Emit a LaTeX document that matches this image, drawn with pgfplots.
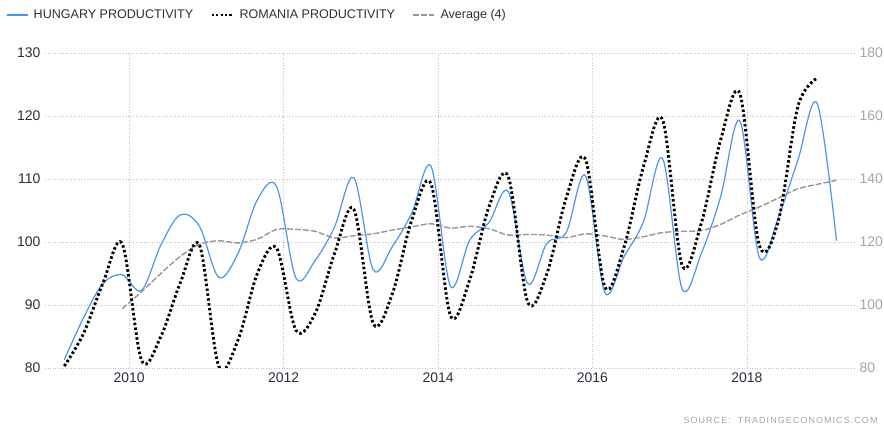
\documentclass[border=0pt]{standalone}
\usepackage{fontspec}
\setmainfont{Liberation Sans}
\usepackage{pgfplots}
\usepackage{pgfplotstable}
\pgfplotsset{compat=1.18}
\definecolor{hublue}{RGB}{77,148,235}
\definecolor{avggray}{RGB}{150,150,150}
\definecolor{gridgray}{RGB}{195,195,195}
\definecolor{ticklbl}{RGB}{45,45,60}
\definecolor{righttick}{RGB}{165,165,165}

\pgfplotstableread{
x v
2009.16 81.3
2009.41 88.0
2009.66 93.4
2009.91 94.8
2010.16 92.3
2010.41 99.5
2010.66 104.3
2010.91 102.5
2011.16 94.4
2011.41 98.2
2011.66 106.7
2011.91 108.8
2012.16 94.3
2012.41 97.1
2012.66 102.4
2012.91 110.2
2013.16 95.6
2013.41 99.3
2013.66 104.6
2013.91 112.0
2014.16 93.0
2014.41 100.3
2014.66 103.1
2014.91 108.0
2015.16 93.4
2015.41 99.8
2015.66 101.5
2015.91 110.5
2016.16 92.0
2016.41 97.7
2016.66 103.2
2016.91 113.2
2017.16 92.6
2017.41 98.2
2017.66 107.2
2017.91 119.2
2018.16 97.6
2018.41 104.0
2018.66 113.0
2018.91 122.0
2019.16 100.2
}\hungary

\pgfplotstableread{
x v
2009.16 80.6
2009.41 91.0
2009.66 106.9
2009.91 119.4
2010.16 82.5
2010.41 90.0
2010.66 106.9
2010.91 119.0
2011.16 80.6
2011.41 88.9
2011.66 110.0
2011.91 118.0
2012.16 92.0
2012.41 97.4
2012.66 116.4
2012.91 130.4
2013.16 94.2
2013.41 103.7
2013.66 127.0
2013.91 138.4
2014.16 96.7
2014.41 108.0
2014.66 131.2
2014.91 140.7
2015.16 101.0
2015.41 110.0
2015.66 134.0
2015.91 146.2
2016.16 105.8
2016.41 118.5
2016.66 143.9
2016.91 158.7
2017.16 112.7
2017.41 126.0
2017.66 152.4
2017.91 167.0
2018.16 119.0
2018.41 127.0
2018.66 163.0
2018.91 172.0
}\romania

\pgfplotstableread{
x v
2009.91 89.4
2010.16 92.1
2010.41 95.0
2010.66 97.7
2010.91 99.65
2011.16 100.2
2011.41 99.85
2011.66 100.45
2011.91 102.0
2012.16 102.0
2012.41 101.7
2012.66 100.65
2012.91 101.0
2013.16 101.3
2013.41 101.9
2013.66 102.4
2013.91 102.9
2014.16 102.2
2014.41 102.5
2014.66 102.1
2014.91 101.1
2015.16 101.2
2015.41 101.1
2015.66 100.7
2015.91 101.3
2016.16 100.95
2016.41 100.4
2016.66 100.85
2016.91 101.5
2017.16 101.7
2017.41 101.8
2017.66 102.8
2017.91 104.3
2018.16 105.55
2018.41 107.0
2018.66 108.45
2018.91 109.15
2019.16 109.8
}\average

\tikzset{romstyle/.style={black, line width=2.9bp, dash pattern=on 2.5bp off 2.4bp}}

\begin{document}
\begin{tikzpicture}
\pgfplotsset{
  common/.style={
    at={(0,0)}, anchor=south west,
    scale only axis, width=810bp, height=315bp,
    xmin=2008.91, xmax=2019.40,
    axis line style={draw=none},
    major tick length=0pt,
    xtick={2010,2012,2014,2016,2018},
    /pgf/number format/1000 sep={},
    /pgf/number format/assume math mode=true,
    tick label style={font=\fontsize{14}{16}\selectfont},
  }
}
\begin{axis}[common,
  ymin=80, ymax=130, ytick={80,90,...,130},
  grid=major,
  grid style={gridgray, line width=0.7bp, dash pattern=on 1bp off 1.6bp},
  yticklabel style={ticklbl, xshift=-1bp},
  xticklabel style={ticklbl, yshift=-1bp},
  legend columns=3,
  legend style={at={(-39bp,353bp)}, anchor=west, draw=none, fill=none,
    font=\fontsize{12.6}{14}\selectfont, text=ticklbl,
    inner sep=0pt, outer sep=0pt,
    nodes={inner sep=0.5bp},
    /tikz/every odd column/.append style={column sep=5bp},
    /tikz/every even column/.append style={column sep=17bp}},
  legend cell align=left,
  legend image code/.code={\draw[#1] (0bp,0bp) -- (21bp,0bp);},
]
\addplot[hublue, line width=1.2bp, smooth, tension=0.55] table[x=x,y=v] {\hungary};
\addlegendentry{HUNGARY PRODUCTIVITY}
\addlegendimage{black, line width=2.4bp, dash pattern=on 2.2bp off 2.2bp}
\addlegendentry{ROMANIA PRODUCTIVITY}
\addplot[avggray, line width=1.4bp, dash pattern=on 6bp off 2bp, smooth, tension=0.5] table[x=x,y=v] {\average};
\addlegendentry{Average (4)}
\end{axis}
\begin{axis}[common,
  ymin=80, ymax=180, ytick={80,100,...,180},
  axis y line*=right, hide x axis,
  yticklabel style={righttick, xshift=1bp},
]
\addplot[romstyle, smooth, tension=0.55] table[x=x,y=v] {\romania};
\end{axis}
\node[anchor=base east, text=righttick, font=\fontsize{9}{11}\selectfont\addfontfeatures{LetterSpace=12}] at (836bp,-55bp) {SOURCE:\ \ TRADINGECONOMICS.COM};
\pgfresetboundingbox
\path[use as bounding box] (-45bp,-59bp) rectangle (839bp,368bp);
\end{tikzpicture}
\end{document}
